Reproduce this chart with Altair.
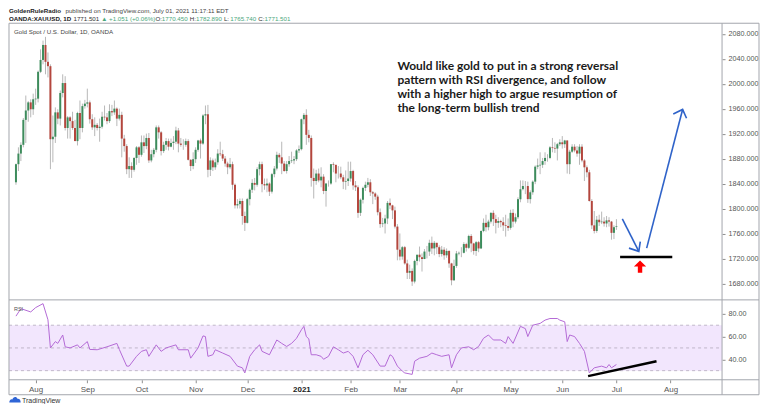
import altair as alt
import pandas as pd

# ---------------- data: XAUUSD daily candles ----------------
OPEN = [
    1842, 1871, 1888, 1902, 1942, 1957, 1970, 1959,  # Jul 2020
    1975, 1976, 2019, 2038, 2062, 2035, 2028, 1911, 1915, 1954, 1944, 1985, 2001, 1929, 1946, 1940, 1929, 1908, 1953, 1929, 1964,
    1968, 1970, 1943, 1930, 1934, 1929, 1931, 1947, 1946, 1940, 1956, 1954, 1960, 1944, 1950, 1912, 1900, 1863, 1868, 1862, 1881, 1898,
    1886, 1906, 1900, 1913, 1877, 1887, 1894, 1930, 1922, 1892, 1902, 1908, 1899, 1905, 1907, 1925, 1904, 1902, 1902, 1908, 1878, 1868,
    1879, 1894, 1909, 1904, 1949, 1951, 1862, 1877, 1866, 1874, 1888, 1887, 1880, 1872, 1866, 1871, 1838, 1805, 1807, 1812, 1788,
    1777, 1815, 1830, 1841, 1838, 1863, 1871, 1839, 1837, 1840, 1827, 1855, 1864, 1886, 1882, 1872, 1860, 1871, 1876, 1877, 1879, 1893,
    1895, 1943, 1950, 1918, 1913, 1849, 1844, 1856, 1845, 1851, 1828, 1840, 1840, 1871, 1870, 1856, 1856, 1850, 1843, 1844,
    1848, 1860, 1837, 1834, 1793, 1814, 1833, 1838, 1842, 1826, 1824, 1819, 1794, 1775, 1776, 1784, 1809, 1805, 1797, 1771,
    1734, 1723, 1738, 1712, 1697, 1700, 1683, 1716, 1726, 1722, 1719, 1731, 1731, 1745, 1736, 1745, 1738, 1727, 1734, 1725, 1732, 1712, 1685,
    1708, 1728, 1729, 1729, 1743, 1737, 1756, 1744, 1732, 1746, 1736, 1764, 1777, 1770, 1779, 1793, 1783, 1777, 1780, 1778, 1773, 1772,
    1769, 1793, 1779, 1786, 1815, 1831, 1836, 1836, 1815, 1826, 1843, 1867, 1869, 1870, 1876, 1881, 1881, 1898, 1897, 1896, 1903,
    1906, 1903, 1909, 1871, 1891, 1899, 1893, 1888, 1899, 1877, 1866, 1858, 1812, 1773, 1764, 1782, 1778, 1779, 1776, 1781, 1779, 1761,
    1770.45,
]
HIGH = [
    1872, 1898, 1906, 1945, 1981, 1972, 1975, 1984,
    1992, 2021, 2055, 2069, 2075, 2050, 2031, 1949, 1962, 1959, 1989, 2015, 2012, 1948, 1948, 1955, 1942, 1955, 1973, 1968, 1974,
    1992, 1973, 1951, 1946, 1937, 1944, 1955, 1965, 1953, 1967, 1966, 1973, 1962, 1960, 1955, 1918, 1903, 1882, 1874, 1882, 1900, 1900,
    1917, 1917, 1920, 1921, 1894, 1897, 1933, 1933, 1924, 1907, 1913, 1912, 1912, 1916, 1931, 1929, 1913, 1911, 1912, 1911, 1879, 1890,
    1898, 1910, 1912, 1951, 1965, 1966, 1882, 1880, 1880, 1895, 1907, 1894, 1884, 1875, 1881, 1875, 1840, 1815, 1816, 1816, 1795,
    1817, 1832, 1847, 1849, 1866, 1875, 1875, 1848, 1848, 1842, 1857, 1868, 1891, 1889, 1907, 1876, 1876, 1884, 1891, 1884, 1895, 1901,
    1944, 1953, 1959, 1926, 1917, 1864, 1862, 1864, 1866, 1855, 1841, 1845, 1871, 1874, 1870, 1868, 1867, 1854, 1861, 1875,
    1875, 1862, 1844, 1837, 1816, 1835, 1843, 1849, 1847, 1828, 1826, 1822, 1800, 1785, 1790, 1812, 1816, 1806, 1803, 1775,
    1760, 1740, 1740, 1718, 1710, 1704, 1718, 1725, 1739, 1728, 1735, 1740, 1750, 1755, 1748, 1745, 1741, 1740, 1738, 1736, 1733, 1713, 1718,
    1732, 1731, 1738, 1746, 1745, 1758, 1759, 1745, 1748, 1748, 1765, 1784, 1790, 1782, 1794, 1797, 1790, 1786, 1782, 1786, 1790, 1784,
    1798, 1799, 1792, 1818, 1845, 1845, 1844, 1843, 1829, 1845, 1869, 1880, 1890, 1881, 1890, 1887, 1900, 1913, 1906, 1905, 1911,
    1916, 1910, 1909, 1894, 1903, 1903, 1900, 1903, 1903, 1879, 1869, 1862, 1815, 1796, 1788, 1790, 1795, 1786, 1788, 1786, 1780, 1773,
    1782.89,
]
LOW = [
    1838, 1860, 1876, 1898, 1905, 1939, 1946, 1950,
    1966, 1970, 2017, 2031, 2015, 2010, 1863, 1874, 1905, 1935, 1933, 1978, 1925, 1912, 1912, 1926, 1908, 1901, 1911, 1922, 1960,
    1962, 1936, 1926, 1916, 1925, 1907, 1928, 1941, 1935, 1937, 1948, 1950, 1932, 1941, 1882, 1891, 1855, 1849, 1849, 1859, 1870, 1873,
    1883, 1889, 1895, 1873, 1874, 1882, 1890, 1912, 1885, 1889, 1894, 1893, 1898, 1894, 1903, 1890, 1899, 1894, 1899, 1877, 1860, 1863,
    1873, 1891, 1880, 1902, 1935, 1850, 1852, 1860, 1862, 1870, 1884, 1876, 1867, 1855, 1863, 1830, 1800, 1800, 1800, 1774, 1764,
    1776, 1805, 1825, 1829, 1835, 1853, 1826, 1830, 1826, 1820, 1824, 1850, 1861, 1873, 1855, 1859, 1856, 1867, 1873, 1871, 1876, 1889,
    1893, 1935, 1902, 1906, 1835, 1816, 1838, 1842, 1834, 1823, 1803, 1835, 1838, 1858, 1842, 1848, 1847, 1831, 1830, 1836,
    1843, 1830, 1828, 1785, 1788, 1808, 1828, 1834, 1820, 1807, 1814, 1789, 1769, 1770, 1760, 1775, 1799, 1783, 1768, 1717,
    1717, 1718, 1710, 1687, 1687, 1676, 1680, 1709, 1715, 1699, 1719, 1720, 1724, 1727, 1725, 1727, 1722, 1723, 1718, 1721, 1705, 1677, 1684,
    1705, 1725, 1722, 1728, 1731, 1735, 1730, 1726, 1724, 1730, 1735, 1762, 1763, 1765, 1776, 1772, 1760, 1769, 1770, 1764, 1755, 1764,
    1766, 1770, 1776, 1783, 1810, 1829, 1823, 1809, 1808, 1822, 1839, 1863, 1855, 1865, 1870, 1875, 1879, 1890, 1889, 1877, 1900,
    1896, 1897, 1856, 1855, 1889, 1890, 1883, 1870, 1874, 1844, 1850, 1811, 1767, 1760, 1761, 1772, 1775, 1771, 1770, 1771, 1750, 1751,
    1765.74,
]
CLOSE = [
    1871, 1888, 1902, 1942, 1957, 1970, 1959, 1975,
    1976, 2019, 2038, 2062, 2035, 2028, 1911, 1915, 1954, 1944, 1985, 2001, 1929, 1946, 1940, 1929, 1908, 1953, 1929, 1964, 1968,
    1970, 1943, 1930, 1934, 1929, 1931, 1947, 1946, 1940, 1956, 1954, 1960, 1944, 1950, 1912, 1900, 1863, 1868, 1862, 1881, 1898, 1886,
    1906, 1900, 1913, 1877, 1887, 1894, 1930, 1922, 1892, 1902, 1908, 1899, 1905, 1907, 1925, 1904, 1902, 1902, 1908, 1878, 1868, 1879,
    1894, 1909, 1904, 1949, 1951, 1862, 1877, 1866, 1874, 1888, 1887, 1880, 1872, 1866, 1871, 1838, 1805, 1807, 1812, 1788, 1777,
    1815, 1830, 1841, 1838, 1863, 1871, 1839, 1837, 1840, 1827, 1855, 1864, 1886, 1882, 1872, 1860, 1871, 1876, 1877, 1879, 1893, 1895,
    1943, 1950, 1918, 1913, 1849, 1844, 1856, 1845, 1851, 1828, 1840, 1840, 1871, 1870, 1856, 1856, 1850, 1843, 1844, 1848,
    1860, 1837, 1834, 1793, 1814, 1833, 1838, 1842, 1826, 1824, 1819, 1794, 1775, 1776, 1784, 1809, 1805, 1797, 1771, 1734,
    1723, 1738, 1712, 1697, 1700, 1683, 1716, 1726, 1722, 1719, 1731, 1731, 1745, 1736, 1745, 1738, 1727, 1734, 1725, 1732, 1712, 1685, 1708,
    1728, 1729, 1729, 1743, 1737, 1756, 1744, 1732, 1746, 1736, 1764, 1777, 1770, 1779, 1793, 1783, 1777, 1780, 1778, 1773, 1772, 1769,
    1793, 1779, 1786, 1815, 1831, 1836, 1836, 1815, 1826, 1843, 1867, 1869, 1870, 1876, 1881, 1881, 1898, 1897, 1896, 1903, 1906,
    1903, 1909, 1871, 1891, 1899, 1893, 1888, 1899, 1877, 1866, 1858, 1812, 1773, 1764, 1782, 1778, 1779, 1776, 1781, 1779, 1761, 1770,
    1771.50,
]

MONTH_TICKS = [8, 29, 51, 73, 94, 116, 136, 156, 179, 201, 222, 244, 266]
MONTH_LABELS = ["Aug", "Sep", "Oct", "Nov", "Dec", "2021", "Feb", "Mar", "Apr", "May", "Jun", "Jul", "Aug"]
PRICE_TICKS = [1680, 1720, 1760, 1800, 1840, 1880, 1920, 1960, 2000, 2040, 2080]
RSI_TICKS = [40, 60, 80]
RSI_LEVELS = [70, 50, 30]

RSI_BAR = [0, 2, 6, 8, 11, 13, 14, 16, 17, 19, 20, 22, 25, 26, 29, 30, 33, 37, 41, 42,
           45, 46, 49, 51, 53, 54, 57, 59, 61, 65, 66, 70, 71, 74, 76, 77, 78, 80, 81, 84,
           87, 90, 92, 93, 95, 97, 99, 100, 103, 106, 108, 110, 112, 114, 116, 117, 118, 119, 120, 122,
           124, 125, 127, 129, 131, 133, 135, 137, 139, 141, 143, 145, 148, 150, 152, 153, 155, 157, 158, 161,
           162, 164, 167, 169, 171, 173, 176, 177, 179, 181, 184, 186, 188, 190, 192, 194, 197, 199, 200, 202,
           205, 207, 208, 210, 213, 215, 217, 220, 221, 223, 224, 225, 227, 229, 231, 233, 235, 238, 240, 241,
           242, 244]
RSI_VAL = [78, 84.6, 81.7, 85.5, 89, 74.8, 50, 55.6, 54, 61.4, 51, 50, 52.7, 50, 55.6, 48.7, 48.4, 51, 54, 48.7,
           34, 34, 42.6, 47, 48.4, 42.6, 52.7, 47, 50, 52.7, 48.4, 48.4, 41, 50, 60.6, 60, 42.6, 44, 48.4, 45.5,
           42.6, 34, 32.5, 28, 42.6, 48.4, 52.7, 47, 44, 57, 54, 51.3, 54, 58.5, 66, 69, 60, 58, 44, 44,
           42.6, 40, 42.6, 51, 48.4, 45.5, 47, 42.6, 32.5, 44, 48, 44, 34, 34, 44, 42.6, 34, 29.6, 28, 26.7,
           38.3, 41, 42.6, 45.5, 44, 42.6, 44, 32.5, 44, 50, 51, 48.4, 51.3, 58.5, 61.4, 57, 57, 54, 60, 54,
           69, 67, 60, 70, 71.6, 74.5, 75.9, 75.9, 74.5, 73, 55.6, 61.4, 60, 54, 47, 28, 32.5, 34, 32.5, 35.4,
           32.5, 35.4]

DIVERGENCE_BAR = [232.5, 260.3]
DIVERGENCE_RSI = [25.2, 38.3]

SUPPORT_BAR = [245.5, 266.7]
SUPPORT_PRICE = 1722.4

# blue hand-drawn arrows: (segment, bar, price)
ARROW_SEG = ["a1", "a1", "h1", "h1", "h1", "a2", "a2", "h2", "h2", "h2"]
ARROW_BAR = [246.4, 253.1, 249.1, 253.1, 253.7, 256.3, 270.9, 267.1, 270.9, 272.5]
ARROW_PRICE = [1783.5, 1731.3, 1736.5, 1731.3, 1747.0, 1736.5, 1958.7, 1951.4, 1958.7, 1944.6]

RED_ARROW_BAR = 253.6
RED_ARROW_PRICE = 1706.7

NOTE_LINES = ["Would like gold to put in a strong reversal",
              "pattern with RSI divergence, and follow",
              "with a higher high to argue resumption of",
              "the long-term bullish trend"]
NOTE_BAR = 155.0
NOTE_PRICE = 2036.0

# ---------------- layout (pixels, plot coordinates) ----------------
W = 714            # pane width
H = 357            # price pane + RSI pane
SPLIT = 277        # separator price / RSI
AXIS_BOTTOM = 372  # bottom of time-axis strip
RIGHT = 751        # right border of the price-scale strip

P_HI_Y, P_LO_Y = 10.5, 260.5      # pixel rows of 2080 and 1680
kp = (P_LO_Y - P_HI_Y) / 400.0
PRICE_DOMAIN = [1680 - (H - P_LO_Y) / kp, 2080 + P_HI_Y / kp]
R_HI_Y, R_LO_Y = 291.0, 336.5     # pixel rows of RSI 80 and 40
kr = (R_LO_Y - R_HI_Y) / 40.0
RSI_DOMAIN = [40 - (H - R_LO_Y) / kr, 80 + R_HI_Y / kr]

FONT = "Liberation Sans"
UP, DOWN = "#3d8c5c", "#b4463d"
WICK = "#b8b8b8"
FRAME = "#a3a6ad"
TEAL = "#4aa77c"

df = pd.DataFrame({"bar": list(range(len(CLOSE))), "open": OPEN, "high": HIGH, "low": LOW, "close": CLOSE})
df["dir"] = ["up" if c >= o else "down" for o, c in zip(df["open"], df["close"])]

XS = alt.Scale(domain=[-0.8, 284.9], nice=False, zero=False)
label_expr = "[" + ",".join(f"'{m}'" for m in MONTH_LABELS) + "][indexof([" + ",".join(str(t) for t in MONTH_TICKS) + "], datum.value)]"
XA = alt.Axis(values=MONTH_TICKS, labelExpr=label_expr, tickSize=3, labelPadding=3, labelFontSize=8,
              labelFontWeight={"condition": {"test": "datum.value == 116", "value": "bold"}, "value": "normal"},
              labelColor={"condition": {"test": "datum.value == 116", "value": "#222"}, "value": "#555"},
              domain=False, grid=False, title=None, labelFlush=False)


def X(f):
    return alt.X(f, type="quantitative", scale=XS, axis=XA, title=None)


PS = alt.Scale(domain=PRICE_DOMAIN, nice=False, zero=False)
RS = alt.Scale(domain=RSI_DOMAIN, nice=False, zero=False)
PA = alt.Axis(orient="right", values=PRICE_TICKS, format=".3f", tickSize=3, labelPadding=3,
              labelFontSize=7.2, domain=False, grid=False, title=None)
RA = alt.Axis(orient="right", values=RSI_TICKS, format=".2f", tickSize=3, labelPadding=3,
              labelFontSize=7.2, domain=False, grid=False, title=None)

ONE = pd.DataFrame({"k": [0]})
layers = []

# RSI band and levels
band = pd.DataFrame({"top": [RSI_LEVELS[0]], "bot": [RSI_LEVELS[2]]})
layers.append(alt.Chart(band).mark_rect(color="#f2e6fd").encode(
    x=alt.value(0), x2=alt.value(W), y=alt.Y("top:Q", scale=RS, axis=None), y2="bot:Q"))
layers.append(alt.Chart(pd.DataFrame({"lvl": RSI_LEVELS})).mark_rule(color="#b3a9bd", strokeDash=[3, 3], strokeWidth=0.8).encode(
    x=alt.value(0), x2=alt.value(W), y=alt.Y("lvl:Q", scale=RS, axis=None)))


# frame lines
def hline(y, x0, x1):
    return alt.Chart(ONE).mark_rule(color=FRAME, strokeWidth=1).encode(x=alt.value(x0), x2=alt.value(x1), y=alt.value(y))


def vline(x, y0, y1):
    return alt.Chart(ONE).mark_rule(color=FRAME, strokeWidth=1).encode(x=alt.value(x), y=alt.value(y0), y2=alt.value(y1))


layers += [hline(0, 0, RIGHT), hline(SPLIT, 0, RIGHT), hline(H, 0, RIGHT), hline(AXIS_BOTTOM, 0, RIGHT),
           vline(0, 0, AXIS_BOTTOM), vline(W, 0, AXIS_BOTTOM), vline(RIGHT, 0, AXIS_BOTTOM)]

# candles
layers.append(alt.Chart(df).mark_rule(color=WICK, strokeWidth=1).encode(
    x=X("bar"), y=alt.Y("low:Q", scale=PS, axis=PA), y2="high:Q"))
layers.append(alt.Chart(df).mark_bar(size=2).encode(
    x=X("bar"), y=alt.Y("open:Q", scale=PS, axis=None), y2="close:Q",
    color=alt.Color("dir:N", scale=alt.Scale(domain=["up", "down"], range=[UP, DOWN]), legend=None)))

# RSI line
rsi = pd.DataFrame({"rb": RSI_BAR, "rv": RSI_VAL})
layers.append(alt.Chart(rsi).mark_line(color="#b46ad6", strokeWidth=1).encode(
    x=X("rb"), y=alt.Y("rv:Q", scale=RS, axis=RA)))
div = pd.DataFrame({"db": DIVERGENCE_BAR, "dv": DIVERGENCE_RSI})
layers.append(alt.Chart(div).mark_line(color="black", strokeWidth=2.5).encode(
    x=X("db"), y=alt.Y("dv:Q", scale=RS, axis=None)))

# annotations on price pane
sup = pd.DataFrame({"b0": [SUPPORT_BAR[0]], "b1": [SUPPORT_BAR[1]], "p": [SUPPORT_PRICE]})
layers.append(alt.Chart(sup).mark_rule(color="black", strokeWidth=2.5).encode(
    x=X("b0"), x2="b1", y=alt.Y("p:Q", scale=PS, axis=None)))
arr = pd.DataFrame({"seg": ARROW_SEG, "ab": ARROW_BAR, "ap": ARROW_PRICE, "ord": list(range(len(ARROW_BAR)))})
layers.append(alt.Chart(arr).mark_line(color="#2f63c9", strokeWidth=1.6).encode(
    x=X("ab"), y=alt.Y("ap:Q", scale=PS, axis=None), detail="seg:N", order="ord:Q"))
red = pd.DataFrame({"rb": [RED_ARROW_BAR], "rp": [RED_ARROW_PRICE]})
layers.append(alt.Chart(red).mark_point(
    shape="M0,-1 L1,-0.05 L0.36,-0.05 L0.36,1 L-0.36,1 L-0.36,-0.05 L-1,-0.05 Z",
    filled=True, color="#ff0000", opacity=1, size=150, strokeWidth=0).encode(
    x=X("rb"), y=alt.Y("rp:Q", scale=PS, axis=None)))
note = pd.DataFrame({"nb": [NOTE_BAR], "np": [NOTE_PRICE]})
layers.append(alt.Chart(note).mark_text(
    text=NOTE_LINES, align="left", baseline="top", font="Lato", fontSize=12, fontWeight="bold",
    lineHeight=14, color="#1a1a1a").encode(
    x=X("nb"), y=alt.Y("np:Q", scale=PS, axis=None)))


# header / captions
def tw(s, size, bold=False):
    w = 0.0
    for ch in s:
        if ch.isdigit():
            e = 0.556
        elif ch in ".,; ":
            e = 0.278
        elif ch == ":":
            e = 0.333 if bold else 0.278
        elif ch in "()":
            e = 0.333
        elif ch == "+":
            e = 0.584
        elif ch == "%":
            e = 0.889
        elif ch == "\u25b2":
            e = 0.7
        elif ch == "/":
            e = 0.278
        elif ch.isupper():
            e = 0.72 if bold else 0.68
        else:
            e = 0.56 if bold else 0.5
        w += e
    return w * size


def txt(s, x, y, size, color="#333", bold=False, font=FONT):
    return alt.Chart(ONE).mark_text(text=s, align="left", baseline="middle", font=font, fontSize=size,
                                     fontWeight="bold" if bold else "normal", color=color).encode(
        x=alt.value(x), y=alt.value(y))


HS = 6.2
x = 0.0
layers.append(txt("GoldenRuleRadio", x, -12, HS, "#222", True))
x += tw("GoldenRuleRadio", HS, True) + 1.5
layers.append(txt("published on TradingView.com, July 01, 2021 11:17:11 EDT", x, -12, HS, "#444"))

segs = [("OANDA:XAUUSD, 1D", "#222", True, 2.0), ("1771.501", "#333", False, 2.0),
        ("\u25b2 +1.051 (+0.06%)", TEAL, False, 2.0), ("O:", "#333", False, 0.5), ("1770.450", TEAL, False, 2.0),
        ("H:", "#333", False, 0.5), ("1782.890", TEAL, False, 2.0), ("L:", "#333", False, 0.5),
        ("1765.740", TEAL, False, 2.0), ("C:", "#333", False, 0.5), ("1771.501", TEAL, False, 2.0)]
x = 0.0
for s, c, b, gap in segs:
    layers.append(txt(s, x, -4.5, HS, c, b))
    x += tw(s, HS, b) + gap

layers.append(txt("Gold Spot / U.S. Dollar, 1D, OANDA", 5, 9, HS, "#444"))
layers.append(txt("RSI", 5, 286, 5.5, "#555"))

# TradingView logo
layers.append(alt.Chart(ONE).mark_point(
    shape="M-1,0.5 C-1,0.1 -0.75,-0.15 -0.45,-0.05 C-0.35,-0.6 0.3,-0.65 0.45,-0.15 C0.8,-0.2 1,0.1 1,0.5 Z",
    filled=True, color="#2f65d6", opacity=1, size=130, strokeWidth=0).encode(x=alt.value(6), y=alt.value(377)))
layers.append(txt("TradingView", 13, 378, 7, "#333"))

chart = alt.layer(*layers).resolve_scale(y="independent").properties(
    width=W, height=H, padding=0, background="white"
).configure_view(stroke=None).configure_axis(
    labelFont=FONT, labelColor="#555", tickColor="#8f8f8f", grid=False, domain=False
)

chart.save("out.html", embed_options={"renderer": "svg", "actions": False})
